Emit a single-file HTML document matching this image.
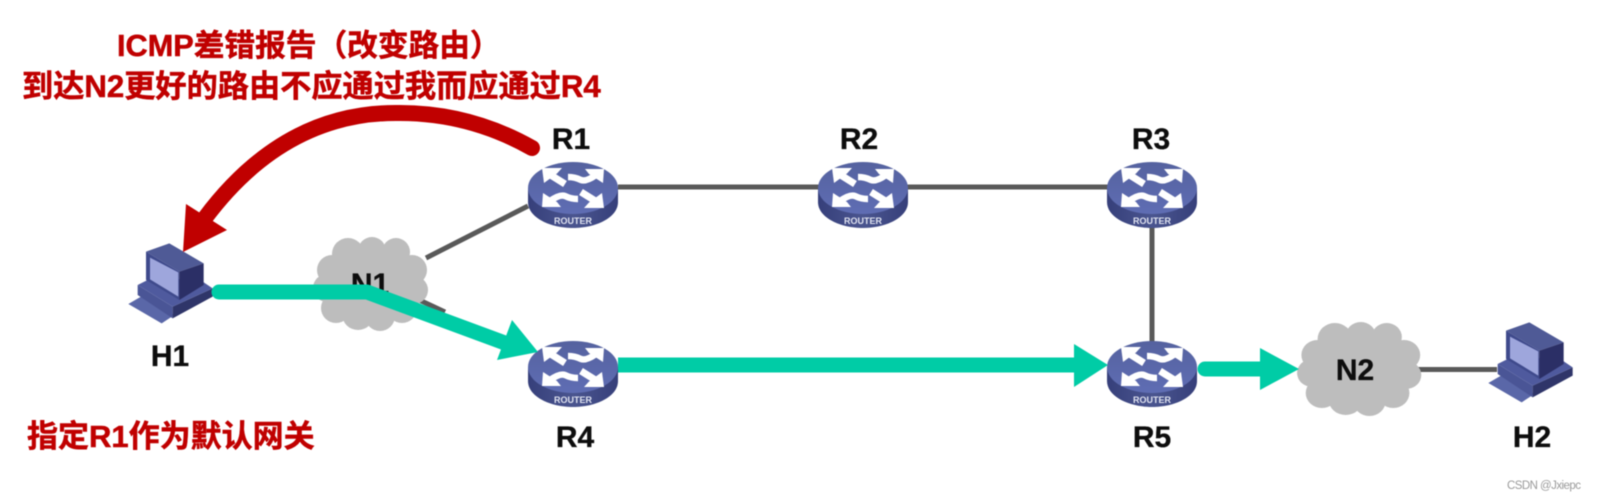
<!DOCTYPE html>
<html><head><meta charset="utf-8">
<style>
html,body{margin:0;padding:0;background:#fff;width:1597px;height:495px;overflow:hidden}
svg{display:block;filter:blur(.45px)}
.l{font:bold 30px "Liberation Sans",sans-serif;fill:#0d0d0d;text-anchor:middle;stroke:#0d0d0d;stroke-width:.3px}
.t{font-family:"Liberation Sans","Noto Sans CJK SC",sans-serif;font-weight:bold;fill:#c00000;stroke:#c00000;stroke-width:.5px}
</style></head><body>
<svg width="1597" height="495" viewBox="0 0 1597 495" xmlns="http://www.w3.org/2000/svg">
<defs>
<linearGradient id="top" x1="0" y1="0" x2="0" y2="1"><stop offset="0" stop-color="#55629f"/><stop offset="1" stop-color="#5f6db4"/></linearGradient>
<linearGradient id="side" x1="0" y1="0" x2="1" y2="0"><stop offset="0" stop-color="#363f7a"/><stop offset=".5" stop-color="#4a558f"/><stop offset="1" stop-color="#363f7a"/></linearGradient>
<g id="arA">
<polygon points="-31,-20 -11,-20 -16,-14.500 -29,-5" fill="#fff"/>
<path d="M-24,-14 L-8,-4" stroke="#fff" stroke-width="7" fill="none"/>
</g>
<g id="arB">
<polygon points="31,-19 12,-19 16,-14 30,-5" fill="#fff"/>
<path d="M23,-13 Q13,-6 8,-8 Q2,-11 -5,-11" stroke="#fff" stroke-width="6.500" fill="none"/>
</g>
<g id="router">
<path d="M-45,0 V14 C-45,30 -22,40 0,40 C22,40 45,30 45,14 V0 Z" fill="url(#side)"/>
<ellipse cx="0" cy="0" rx="45" ry="26" fill="url(#top)"/>
<use href="#arA"/><use href="#arB"/>
<use href="#arB" transform="scale(-1,-1)"/><use href="#arA" transform="scale(-1,-1)"/>
<text x="0" y="36" text-anchor="middle" style="font:bold 9px 'Liberation Sans',sans-serif;fill:#dfe2f0">ROUTER</text>
</g>
<g id="cloud" fill="#bdbdbd">
<ellipse cx="0" cy="0" rx="48" ry="36"/>
<circle cx="-38" cy="-14" r="15"/><circle cx="-22" cy="-30" r="16"/><circle cx="2" cy="-33" r="14"/><circle cx="26" cy="-32" r="14"/><circle cx="42" cy="-14" r="15"/>
<circle cx="44" cy="6" r="14"/><circle cx="32" cy="24" r="15"/><circle cx="10" cy="32" r="15"/><circle cx="-12" cy="30" r="16"/><circle cx="-34" cy="24" r="15"/><circle cx="-43" cy="4" r="14"/>
</g>
<g id="pc" transform="scale(.3333)">
<polygon points="22,207 60,185 160,240 122,265" fill="#5a67a8"/>
<polygon points="50,150 155,215 155,250 50,180" fill="#4a5596"/>
<polygon points="155,215 275,160 275,185 155,250" fill="#2f3569"/>
<polygon points="50,150 100,125 245,140 275,160 155,215" fill="#4f5a9e"/>
<polygon points="75,50 145,25 248,85 175,110" fill="#4f5a96"/>
<polygon points="75,50 175,110 175,195 75,135" fill="#3f4a8c"/>
<polygon points="87,68 172,112 172,185 87,133" fill="#9ea6dc"/>
<polygon points="175,110 248,85 248,150 175,195" fill="#2b2f66"/>
</g>
</defs>

<g stroke="#595959" stroke-width="5" fill="none">
<path d="M618,187 H1110"/>
<path d="M1152,210 V342"/>
<path d="M528,206 L426,258"/>
<path d="M415,298 L445,312"/>
<path d="M1413,369.500 H1497"/>
</g>

<use href="#cloud" x="370" y="284"/>
<use href="#cloud" x="1358" y="369" transform="translate(-108,0) scale(1.08,1)"/>

<use href="#router" x="573" y="188"/>
<use href="#router" x="863" y="188"/>
<use href="#router" x="1152" y="188"/>
<use href="#router" x="573" y="367"/>
<use href="#router" x="1152" y="367"/>

<use href="#pc" transform="translate(121,235)"/>
<use href="#pc" transform="translate(1481,314)"/>

<text class="l" x="571" y="149">R1</text>
<text class="l" x="859" y="149">R2</text>
<text class="l" x="1151" y="149">R3</text>
<text class="l" x="575" y="447">R4</text>
<text class="l" x="1152" y="447">R5</text>
<text class="l" x="170" y="366">H1</text>
<text class="l" x="1532" y="447">H2</text>
<text class="l" x="370" y="294">N1</text>
<text class="l" x="1355" y="380">N2</text>

<path d="M532,148 Q470,113 400,113 Q285,111 205,218" fill="none" stroke="#c00000" stroke-width="16" stroke-linecap="round"/>
<polygon points="183,252 186,204 227,230" fill="#c00000"/>

<path d="M219,292 H367 L505,343" fill="none" stroke="#00cca6" stroke-width="15" stroke-linecap="round" stroke-linejoin="round"/>
<polygon points="538,352 512,320 497,360" fill="#00cca6"/>
<path d="M618,365 H1076" fill="none" stroke="#00cca6" stroke-width="15"/>
<polygon points="1108,365 1074,344 1074,387" fill="#00cca6"/>
<path d="M1205,369 H1262" fill="none" stroke="#00cca6" stroke-width="15" stroke-linecap="round"/>
<polygon points="1299,369 1260,348 1260,390" fill="#00cca6"/>

<text class="t" x="117" y="56" font-size="30.700">ICMP差错报告（改变路由）</text>
<text class="t" x="22" y="97" font-size="31.200">到达N2更好的路由不应通过我而应通过R4</text>
<text class="t" x="27" y="447" font-size="31">指定R1作为默认网关</text>

<text x="1507" y="489" style="font:11.500px 'Liberation Sans',sans-serif;fill:#9a9a9a" textLength="74">CSDN @Jxiepc</text>
</svg>
</body></html>
